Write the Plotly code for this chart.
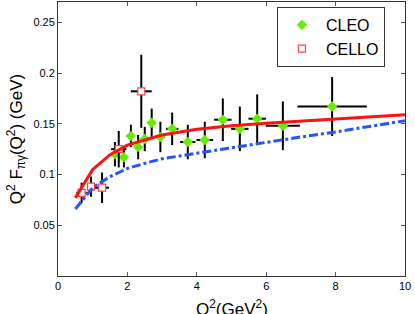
import plotly.graph_objects as go

# CLEO data
cleo_q2 = [1.64, 1.90, 2.10, 2.31, 2.50, 2.70, 2.95, 3.29, 3.74, 4.23, 4.75, 5.24, 5.74, 6.48, 7.90]
cleo_f = [0.120, 0.117, 0.138, 0.127, 0.135, 0.151, 0.137, 0.145, 0.132, 0.134, 0.154, 0.145, 0.155, 0.148, 0.167]
cleo_ey = [0.012, 0.010, 0.011, 0.012, 0.012, 0.014, 0.015, 0.016, 0.017, 0.018, 0.021, 0.022, 0.024, 0.024, 0.029]
cleo_ex = [0.12, 0.10, 0.12, 0.10, 0.10, 0.12, 0.13, 0.18, 0.22, 0.24, 0.25, 0.25, 0.25, 0.49, 1.0]

# CELLO data
cello_q2 = [0.68, 0.95, 1.27, 1.75, 2.40]
cello_f = [0.082, 0.088, 0.087, 0.125, 0.182]
cello_ey = [0.010, 0.010, 0.015, 0.018, 0.036]
cello_ex = [0.15, 0.10, 0.20, 0.22, 0.30]

# Theory curves
curve_q2 = [0.5, 1.0, 1.5, 2.0, 2.5, 3.0, 4.0, 5.0, 6.0, 7.0, 8.0, 9.0, 10.0]
red_f = [0.077, 0.105, 0.1196, 0.129, 0.134, 0.139, 0.1445, 0.148, 0.1505, 0.1525, 0.1545, 0.157, 0.159]
blue_f = [0.066, 0.087, 0.098, 0.106, 0.111, 0.1155, 0.121, 0.1265, 0.132, 0.137, 0.142, 0.1475, 0.153]

x_ticks = [0, 2, 4, 6, 8, 10]
y_ticks = [0.05, 0.1, 0.15, 0.2, 0.25]
y_tick_text = ["0.05", "0.1", "0.15", "0.2", "0.25"]
x_title = "Q<sup>2</sup>(GeV<sup>2</sup>)"
y_title = "Q<sup>2</sup> F<sub>πγ</sub>(Q<sup>2</sup>) (GeV)"

fig = go.Figure()

fig.add_trace(go.Scatter(
    x=cleo_q2, y=cleo_f, mode="markers", name="CLEO",
    marker=dict(symbol="diamond", color="#66ee00", size=8, line=dict(width=0)),
    error_y=dict(type="data", array=cleo_ey, color="black", thickness=2, width=0),
    error_x=dict(type="data", array=cleo_ex, color="black", thickness=2, width=0),
))
fig.add_trace(go.Scatter(
    x=cello_q2, y=cello_f, mode="markers", name="CELLO",
    marker=dict(symbol="square", color="white", size=7, line=dict(width=1.2, color="#ff4444")),
    error_y=dict(type="data", array=cello_ey, color="black", thickness=2, width=0),
    error_x=dict(type="data", array=cello_ex, color="black", thickness=2, width=0),
))
fig.add_trace(go.Scatter(
    x=curve_q2, y=red_f, mode="lines", showlegend=False,
    line=dict(color="#ff1111", width=3),
))
fig.add_trace(go.Scatter(
    x=curve_q2, y=blue_f, mode="lines", showlegend=False,
    line=dict(color="#2255ff", width=3, dash="dashdot"),
))

fig.update_layout(
    width=415, height=314,
    margin=dict(l=58, r=10, t=2, b=38, autoexpand=False),
    paper_bgcolor="white", plot_bgcolor="white",
    font=dict(family="Liberation Sans, Arial, sans-serif", color="black"),
    showlegend=True,
    legend=dict(
        x=0.631, y=0.982, xanchor="left", yanchor="top",
        bgcolor="white", bordercolor="#333333", borderwidth=1,
        font=dict(size=16), itemwidth=38,
        entrywidth=108, entrywidthmode="pixels",
    ),
    annotations=[dict(
        text=x_title, xref="paper", yref="paper", x=0.5, y=-0.07,
        xanchor="center", yanchor="top", showarrow=False,
        font=dict(size=17),
    )],
)
fig.update_xaxes(
    range=[0, 10], tickvals=x_ticks, ticks="inside", ticklen=4,
    tickcolor="#555555", showline=True, linecolor="#333333", linewidth=1,
    mirror="ticks", showgrid=False, zeroline=False, automargin=False,
    tickfont=dict(size=11),
)
fig.update_yaxes(
    range=[0, 0.27], tickvals=y_ticks, ticktext=y_tick_text, ticks="inside", ticklen=4,
    tickcolor="#555555", showline=True, linecolor="#333333", linewidth=1,
    mirror="ticks", showgrid=False, zeroline=False, automargin=False,
    tickfont=dict(size=11),
    title=dict(text=y_title, font=dict(size=17), standoff=6),
)

fig.write_html(
    "out.html",
    config={"displayModeBar": False},
    post_script="document.body.style.margin='0';document.body.style.padding='0';",
)
